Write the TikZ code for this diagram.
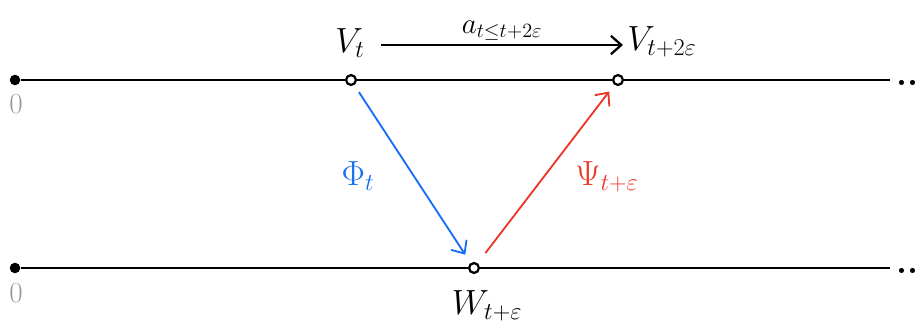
\documentclass[tikz,border=0pt]{standalone}
\usepackage{amsmath}
\usepackage{xcolor}
\usetikzlibrary{arrows.meta}
\definecolor{phiblue}{RGB}{20,110,245}
\definecolor{psired}{RGB}{235,55,40}
\begin{document}
\begin{tikzpicture}[x=0.025cm,y=-0.025cm,
    timeline/.style={line width=1.9pt,black},
    startdot/.style={circle,fill=black,inner sep=0pt,minimum size=7.5pt},
    point/.style={circle,draw=black,fill=white,line width=1.6pt,inner sep=0pt,minimum size=7pt},
    zero/.style={text=gray!80,font=\fontsize{22}{24}\selectfont},
    lab/.style={font=\fontsize{25}{28}\selectfont},
    map/.style={line width=1.3pt,-{Straight Barb[length=2.6mm,width=4.6mm]}}]
  \useasboundingbox (0,0) rectangle (920,329);
  % zeitachsen
  \node[startdot] (s0) at (15,80) {};
  \node[startdot] (s1) at (15,268) {};
  \coordinate (e0) at (890,80);
  \coordinate (e1) at (890,268);
  \draw[timeline] (s0) -- (e0);
  \draw[timeline] (s1) -- (e1);
  \node[lab,anchor=base west,inner sep=0pt] (d0) at (896,85) {\textbf{..}};
  \node[lab,anchor=base west,inner sep=0pt] (d1) at (896,273) {\textbf{..}};
  \node[zero] (z0) at (16,104) {$0$};
  \node[zero] (z1) at (16,293) {$0$};

  % zustaende
  \node[point] (Vt) at (351,80) {};
  \node[point] (V2) at (618,80) {};
  \node[point] (W) at (474,268) {};
  \node[lab] (Vtlab) at (350,43) {$V_t$};
  \node[lab] (V2lab) at (662,42) {$V_{t+2\varepsilon}$};
  \node[lab] (Wlab) at (487,306) {$W_{t+\varepsilon}$};

  % abbildungen
  \coordinate (a0) at (381,45);
  \coordinate (a1) at (623,45);
  \draw[map,line width=1.6pt] (a0) -- node[lab,above=-1pt,font=\fontsize{21}{24}\selectfont] {$a_{t\le t+2\varepsilon}$} (a1);
  \draw[map,phiblue,shorten <=6pt,shorten >=7pt] (Vt) -- (W);
  \draw[map,psired,shorten <=9pt,shorten >=6pt] (W) -- (V2);
  \node[lab,text=phiblue] (phi) at (358,176) {$\Phi_t$};
  \node[lab,text=psired] (psi) at (607,177) {$\Psi_{t+\varepsilon}$};
\end{tikzpicture}
\end{document}
